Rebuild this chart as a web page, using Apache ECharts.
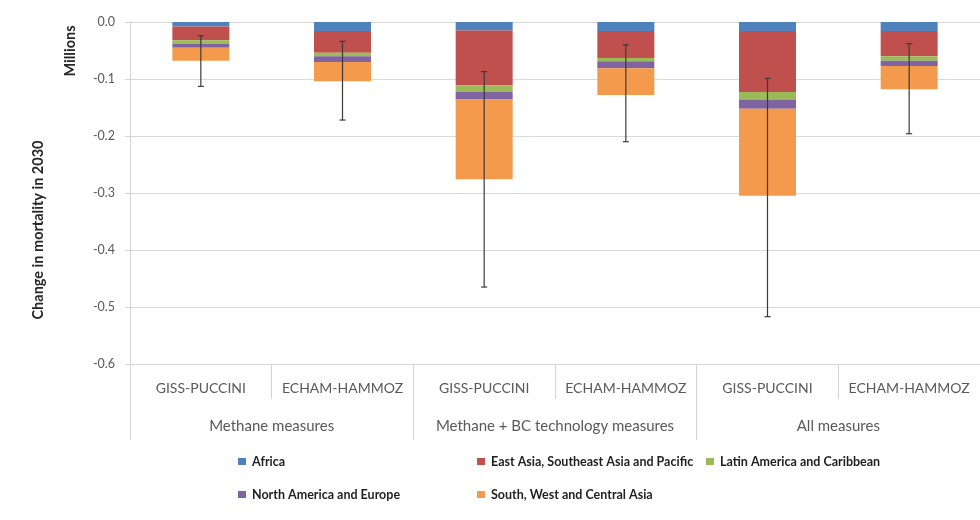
<!DOCTYPE html>
<html>
<head>
<meta charset="utf-8">
<script src="https://cdn.jsdelivr.net/npm/echarts@6/dist/echarts.min.js"></script>
<style>
  html, body { margin: 0; padding: 0; background: #ffffff; }
  #chart { width: 980px; height: 520px; }
</style>
</head>
<body>
<div id="chart"></div>
<script>
// Model runs (inner axis) and measure packages (outer axis)
const models = ['GISS-PUCCINI', 'ECHAM-HAMMOZ', 'GISS-PUCCINI', 'ECHAM-HAMMOZ', 'GISS-PUCCINI', 'ECHAM-HAMMOZ'];
const scenarios = ['Methane measures', 'Methane + BC technology measures', 'All measures'];

// Change in mortality in 2030 by region (millions)
const africa       = [-0.008, -0.016, -0.015, -0.016, -0.016, -0.016];
const eastAsia     = [-0.024, -0.038, -0.096, -0.047, -0.107, -0.044];
const latinAmerica = [-0.006, -0.006, -0.012, -0.006, -0.013, -0.008];
const northAmerica = [-0.007, -0.010, -0.013, -0.012, -0.016, -0.009];
const southAsia    = [-0.023, -0.034, -0.140, -0.047, -0.153, -0.041];

// Uncertainty range of the total
const errHigh = [-0.024, -0.034, -0.087, -0.040, -0.099, -0.038];
const errLow  = [-0.113, -0.172, -0.465, -0.210, -0.517, -0.196];

const regionNames = [
  'Africa',
  'East Asia, Southeast Asia and Pacific',
  'Latin America and Caribbean',
  'North America and Europe',
  'South, West and Central Asia'
];
const regionValues = [africa, eastAsia, latinAmerica, northAmerica, southAsia];
const regionColors = ['#4F81BD', '#C0504D', '#9BBB59', '#8064A2', '#F39A4C'];

const chart = echarts.init(document.getElementById('chart'), null, { renderer: 'canvas' });

const FONT = 'Lato, "Open Sans", sans-serif';

const barSeries = regionNames.map((name, i) => ({
  name: name,
  type: 'bar',
  stack: 'total',
  barWidth: 57,
  itemStyle: { color: regionColors[i] },
  data: regionValues[i],
  animation: false
}));

const errorSeries = {
  type: 'custom',
  name: 'range',
  xAxisIndex: 0,
  yAxisIndex: 0,
  z: 10,
  animation: false,
  data: models.map((m, i) => [i, errHigh[i], errLow[i]]),
  encode: { x: 0, y: [1, 2] },
  renderItem: function (params, api) {
    const x = api.value(0);
    const top = api.coord([x, api.value(1)]);
    const bottom = api.coord([x, api.value(2)]);
    const cap = 3;
    const style = { stroke: '#3a3a3a', lineWidth: 1.2 };
    return {
      type: 'group',
      children: [
        { type: 'line', shape: { x1: top[0], y1: top[1], x2: bottom[0], y2: bottom[1] }, style: style },
        { type: 'line', shape: { x1: top[0] - cap, y1: top[1], x2: top[0] + cap, y2: top[1] }, style: style },
        { type: 'line', shape: { x1: bottom[0] - cap, y1: bottom[1], x2: bottom[0] + cap, y2: bottom[1] }, style: style }
      ]
    };
  }
};

// One legend block per region so the entries sit in fixed columns
const legendSpots = [
  { left: 238, top: 455 },
  { left: 477, top: 455 },
  { left: 706, top: 455 },
  { left: 238, top: 488 },
  { left: 477, top: 488 }
];
const legends = regionNames.map((name, i) => ({
  data: [name],
  left: legendSpots[i].left,
  top: legendSpots[i].top,
  padding: 0,
  icon: 'rect',
  itemWidth: 8,
  itemHeight: 7,
  itemGap: 0,
  selectedMode: false,
  textStyle: { fontFamily: FONT, fontSize: 12.5, fontWeight: 'bold', color: '#1f1f1f', padding: [0, 0, 0, 1] }
}));

chart.setOption({
  backgroundColor: '#ffffff',
  animation: false,
  legend: legends,
  grid: { left: 130, top: 22, width: 861, height: 342, containLabel: false },
  xAxis: [
    {
      type: 'category',
      data: models,
      position: 'bottom',
      axisLine: { show: true, onZero: false, lineStyle: { color: '#d4d4d4', width: 1 } },
      axisTick: { show: true, interval: 0, length: 35, lineStyle: { color: '#d4d4d4' } },
      axisLabel: { interval: 0, margin: 17, fontFamily: FONT, fontSize: 14, color: '#595959' },
      splitLine: { show: false }
    },
    {
      type: 'category',
      data: scenarios,
      position: 'bottom',
      axisLine: { show: false, onZero: false },
      axisTick: { show: true, interval: 0, length: 76, lineStyle: { color: '#d4d4d4' } },
      axisLabel: { interval: 0, margin: 55, fontFamily: FONT, fontSize: 15, color: '#595959' },
      splitLine: { show: false }
    }
  ],
  yAxis: {
    type: 'value',
    min: -0.6,
    max: 0,
    interval: 0.1,
    axisLine: { show: true, lineStyle: { color: '#d4d4d4' } },
    axisTick: { show: true, length: 5, lineStyle: { color: '#d4d4d4' } },
    axisLabel: {
      margin: 15,
      fontFamily: FONT,
      fontSize: 12.5,
      color: '#595959',
      formatter: v => v.toFixed(1)
    },
    splitLine: { show: true, lineStyle: { color: '#d9d9d9', width: 1 } }
  },
  graphic: [
    {
      type: 'text',
      x: 38,
      y: 230,
      rotation: Math.PI / 2,
      style: {
        x: 0,
        y: 0,
        text: 'Change in mortality in 2030',
        font: 'bold 14.5px ' + FONT,
        fill: '#262626',
        align: 'center',
        verticalAlign: 'middle'
      }
    },
    {
      type: 'text',
      x: 70,
      y: 51,
      rotation: Math.PI / 2,
      style: {
        x: 0,
        y: 0,
        text: 'Millions',
        font: 'bold 14.5px ' + FONT,
        fill: '#262626',
        align: 'center',
        verticalAlign: 'middle'
      }
    }
  ],
  series: barSeries.concat([errorSeries])
});
</script>
</body>
</html>
